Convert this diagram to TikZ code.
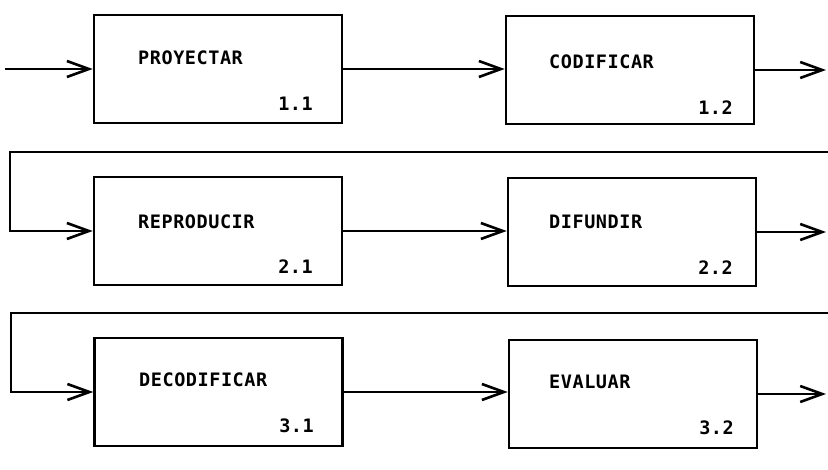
\documentclass[tikz,border=0pt]{standalone}
\usepackage{fontspec}
\setmonofont[LetterSpace=3]{DejaVu Sans Mono}
\usetikzlibrary{arrows.meta}
\tikzset{
  box/.style={draw, line width=2.6pt, minimum width=248pt, minimum height=108pt, inner sep=0pt},
  lbl/.style={font=\ttfamily\bfseries\fontsize{18.5}{20}\selectfont, inner sep=0pt, anchor=base west},
  num/.style={font=\ttfamily\bfseries\fontsize{18.5}{20}\selectfont, inner sep=0pt, anchor=base east},
  arr/.style={line width=2.6pt, -{Straight Barb[length=22pt, width=16pt, line width=2.6pt]}}
}
\begin{document}
\begin{tikzpicture}[x=1pt, y=-1pt]
\useasboundingbox (0,0) rectangle (828,470);
% boxes
\node[box] (b11) at (218,69) {};
\node[box] (b12) at (630,70) {};
\node[box] (b21) at (218,231) {};
\node[box] (b22) at (632,232) {};
\node[box] (b31) at (218.5,392) {};
\node[box] (b32) at (633,394) {};
% labels
\node[lbl] (t11) at (138,65) {PROYECTAR};
\node[lbl] (t12) at (549,69) {CODIFICAR};
\node[lbl] (t21) at (138,229) {REPRODUCIR};
\node[lbl] (t22) at (549,229) {DIFUNDIR};
\node[lbl] (t31) at (139,387) {DECODIFICAR};
\node[lbl] (t32) at (549,389) {EVALUAR};
\node[num] (n11) at (313,111) {1.1};
\node[num] (n12) at (733,115) {1.2};
\node[num] (n21) at (313,274) {2.1};
\node[num] (n22) at (733,275) {2.2};
\node[num] (n31) at (314,433) {3.1};
\node[num] (n32) at (734,435) {3.2};
% free ends
\coordinate (in1) at (5,69);
\coordinate (out1) at (826,70);
\coordinate (r2s) at (828,152);
\coordinate (r2l) at (10,152);
\coordinate (out2) at (826,232);
\coordinate (r3s) at (828,313);
\coordinate (r3l) at (11,313);
\coordinate (out3) at (826,394);
% connectors
\draw[arr] (in1) -- (b11.west);
\draw[arr] (b11.east) -- (b11.east -| b12.west);
\draw[arr] (b12.east) -- (out1);
\draw[arr] (r2s) -- (r2l) |- (b21.west);
\draw[arr] (b21.east) -- (b21.east -| b22.west);
\draw[arr] (b22.east) -- (out2);
\draw[arr] (r3s) -- (r3l) |- (b31.west);
\draw[arr] (b31.east) -- (b31.east -| b32.west);
\draw[arr] (b32.east) -- (out3);
\end{tikzpicture}
\end{document}
